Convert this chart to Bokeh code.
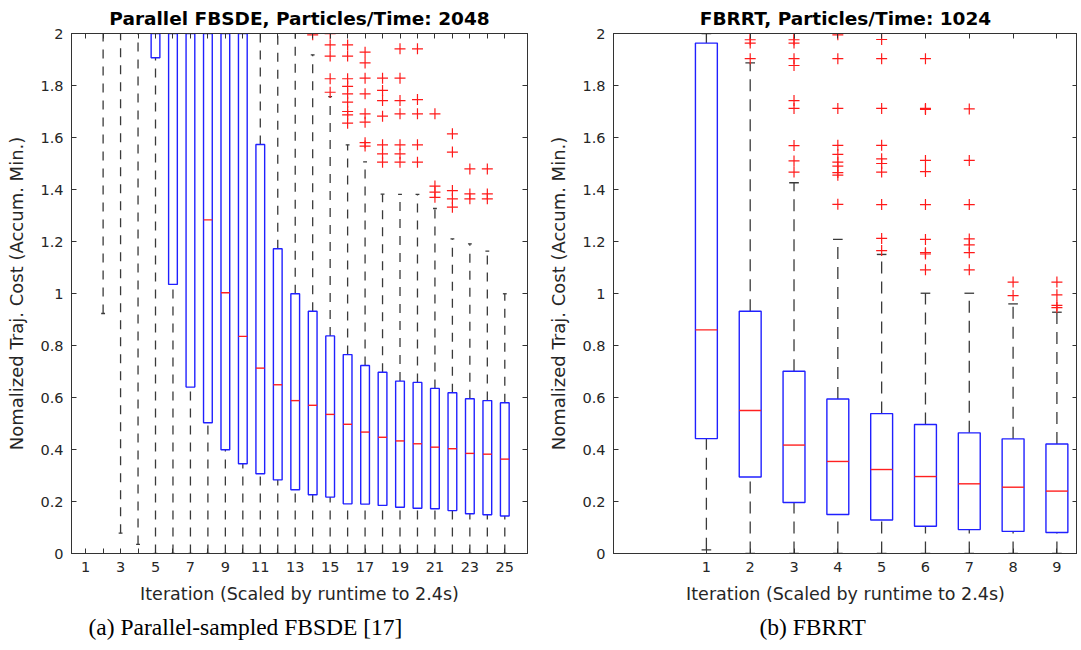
import numpy as np
from bokeh.plotting import figure
from bokeh.layouts import row
from bokeh.models import FixedTicker, LinearAxis, Title, Range1d, ColumnDataSource
from bokeh.embed import file_html
from bokeh.resources import INLINE

nan = float("nan")

# ---------------- data: (a) Parallel-sampled FBSDE ----------------
iters_a = list(range(1, 26))
# nan = not visible; values above 2 lie outside the visible axis (estimated)
lw_a = [nan, 0.923, 0.078, 0.035, 0, 0, 0, 0, 0, 0, 0, 0, 0, 0, 0, 0, 0, 0, 0, 0, 0, 0, 0, 0, 0]
q1_a = [nan, 2.3, 2.2, 2.1, 1.907, 1.035, 0.640, 0.503, 0.399, 0.345, 0.307, 0.283, 0.245,
        0.226, 0.217, 0.191, 0.190, 0.185, 0.178, 0.174, 0.172, 0.165, 0.153, 0.149, 0.144]
med_a = [nan, nan, nan, nan, nan, nan, nan, 1.283, 1.003, 0.835, 0.713, 0.649, 0.588,
         0.570, 0.535, 0.497, 0.467, 0.447, 0.433, 0.422, 0.409, 0.403, 0.385, 0.382, 0.363]
q3_a = [nan, nan, nan, nan, 2.5, 2.4, 2.3, 2.2, 2.1, 2.05, 1.573, 1.172, 0.999,
        0.932, 0.837, 0.765, 0.723, 0.697, 0.663, 0.658, 0.635, 0.618, 0.595, 0.588, 0.580]
uw_a = [nan, nan, nan, nan, nan, nan, nan, nan, nan, nan, 2.2, 2.1, 2.05,
        1.918, 1.757, 1.572, 1.506, 1.382, 1.381, 1.381, 1.327, 1.210, 1.191, 1.163, 0.999]
outliers_a = {
    14: [1.995],
    15: [1.999, 1.956, 1.913, 1.826, 1.774],
    16: [1.956, 1.913, 1.826, 1.797, 1.768, 1.736, 1.700, 1.687, 1.655],
    17: [1.928, 1.887, 1.828, 1.768, 1.691, 1.659, 1.580, 1.567],
    18: [1.828, 1.781, 1.742, 1.682, 1.572, 1.537, 1.505],
    19: [1.941, 1.828, 1.742, 1.691, 1.572, 1.537, 1.505],
    20: [1.941, 1.746, 1.691, 1.572, 1.505],
    21: [1.691, 1.413, 1.390, 1.370],
    22: [1.614, 1.544, 1.396, 1.364, 1.332],
    23: [1.479, 1.383, 1.364],
    24: [1.479, 1.383, 1.364],
}

# ---------------- data: (b) FBRRT ----------------
iters_b = list(range(1, 10))
lw_b = [0.014, 0, 0, 0, 0, 0, 0, 0, 0]
q1_b = [0.442, 0.294, 0.196, 0.150, 0.129, 0.105, 0.092, 0.085, 0.081]
med_b = [0.860, 0.550, 0.417, 0.354, 0.323, 0.296, 0.268, 0.255, 0.240]
q3_b = [1.963, 0.932, 0.701, 0.594, 0.538, 0.496, 0.464, 0.441, 0.421]
uw_b = [2.0, 1.887, 1.426, 1.208, 1.150, 1.001, 1.001, 0.960, 0.928]
outliers_b = {
    2: [2.0, 1.976, 1.963, 1.903],
    3: [2.0, 1.976, 1.963, 1.903, 1.877, 1.742, 1.712, 1.569, 1.510, 1.467],
    4: [1.995, 1.903, 1.712, 1.570, 1.535, 1.505, 1.490, 1.465, 1.455, 1.343],
    5: [1.977, 1.903, 1.712, 1.570, 1.518, 1.500, 1.467, 1.342, 1.212, 1.165],
    6: [1.903, 1.712, 1.708, 1.512, 1.469, 1.342, 1.208, 1.157, 1.152, 1.091],
    7: [1.710, 1.512, 1.342, 1.210, 1.187, 1.157, 1.091],
    8: [1.044, 0.992],
    9: [1.044, 0.995, 0.954, 0.946],
}

y_ticks = [round(0.2 * i, 1) for i in range(11)]
x_label = "Iteration (Scaled by runtime to 2.4s)"
y_label = "Nomalized Traj. Cost (Accum. Min.)"

TXT = "#262626"
FONT = "DejaVu Sans"


def make_panel(title, caption, cap_offset, iters, lw, q1, med, q3, uw, outl,
               x_range, frame_w, mb_left, mb_right, label_every, dash):
    p = figure(frame_width=frame_w, frame_height=520, output_backend="svg",
               toolbar_location=None, x_range=Range1d(*x_range), y_range=Range1d(0, 2),
               min_border_left=mb_left, min_border_right=mb_right,
               min_border_top=33, min_border_bottom=97)
    p.background_fill_color = "white"
    p.border_fill_color = "white"
    p.grid.visible = False
    p.outline_line_color = "#333333"
    p.outline_line_width = 1

    p.title.text = title
    p.title.align = "center"
    p.title.text_font = FONT
    p.title.text_font_size = "18.5px"
    p.title.text_font_style = "bold"
    p.title.text_color = "black"
    p.title.standoff = 10

    ov = {}
    for t in iters:
        ov[t] = str(t) if (t - 1) % label_every == 0 else ""
    xt = FixedTicker(ticks=iters)
    yt = FixedTicker(ticks=y_ticks)
    yov = {0: "0", 1: "1", 2: "2"}

    for ax in (p.xaxis[0], p.yaxis[0]):
        ax.major_tick_in = 5
        ax.major_tick_out = 0
        ax.minor_tick_line_color = None
        ax.axis_line_color = "#333333"
        ax.major_tick_line_color = "#333333"
        ax.major_label_text_font = FONT
        ax.major_label_text_font_size = "14.5px"
        ax.major_label_text_color = TXT
        ax.axis_label_text_font = FONT
        ax.axis_label_text_font_style = "normal"
        ax.axis_label_text_color = TXT
    p.xaxis[0].axis_label_text_font_size = "17.5px"
    p.yaxis[0].axis_label_text_font_size = "18px"
    p.xaxis[0].ticker = xt
    p.xaxis[0].major_label_overrides = ov
    p.xaxis[0].major_label_standoff = 8
    p.xaxis[0].axis_label = x_label
    p.xaxis[0].axis_label_standoff = 9
    p.yaxis[0].ticker = yt
    p.yaxis[0].major_label_overrides = yov
    p.yaxis[0].major_label_standoff = 8
    p.yaxis[0].axis_label = y_label
    p.yaxis[0].axis_label_standoff = 10

    # tick marks only (no labels) on the top and right sides of the box
    top = LinearAxis(ticker=xt, major_label_text_font_size="0px", major_label_text_color=None,
                     major_label_standoff=0,
                     major_tick_in=5, major_tick_out=0, minor_tick_line_color=None,
                     axis_line_color="#333333", major_tick_line_color="#333333")
    right = LinearAxis(ticker=yt, major_label_text_font_size="0px", major_label_text_color=None,
                       major_label_standoff=0,
                       major_tick_in=5, major_tick_out=0, minor_tick_line_color=None,
                       axis_line_color="#333333", major_tick_line_color="#333333")
    p.add_layout(top, "above")
    p.add_layout(right, "right")

    x = np.array(iters, dtype=float)
    hw = 0.25
    cw = 0.11
    src = ColumnDataSource(dict(
        x=x, lw=lw, q1=q1, med=med, q3=q3, uw=uw,
        xl=x - hw, xr=x + hw, cl=x - cw, cr=x + cw))

    # whiskers (dashed)
    p.segment(x0="x", y0="lw", x1="x", y1="q1", source=src, line_color="#3a3a3a",
              line_width=1.3, line_dash=dash)
    p.segment(x0="x", y0="q3", x1="x", y1="uw", source=src, line_color="#3a3a3a",
              line_width=1.3, line_dash=dash)
    # caps
    p.segment(x0="cl", y0="lw", x1="cr", y1="lw", source=src, line_color="#3a3a3a", line_width=1.3)
    p.segment(x0="cl", y0="uw", x1="cr", y1="uw", source=src, line_color="#3a3a3a", line_width=1.3)
    # boxes
    p.vbar(x="x", width=2 * hw, bottom="q1", top="q3", source=src, fill_color=None,
           line_color="#2020ff", line_width=1.4)
    # medians
    p.segment(x0="xl", y0="med", x1="xr", y1="med", source=src, line_color="#ff2020", line_width=1.4)
    # outliers
    ox, oy = [], []
    for k, vals in outl.items():
        for v in vals:
            ox.append(k)
            oy.append(v)
    p.scatter(x=ox, y=oy, marker="cross", size=11, line_color="#ff1a1a", line_width=1.2)

    cap = Title(text=caption, align="left", offset=cap_offset, text_font="Liberation Serif",
                text_font_size="23.5px", text_font_style="normal", text_color="black", standoff=11)
    p.add_layout(cap, "below")
    return p


p1 = make_panel("Parallel FBSDE, Particles/Time: 2048", "(a) Parallel-sampled FBSDE [17]", 17,
                iters_a, lw_a, q1_a, med_a, q3_a, uw_a, outliers_a,
                (0.19, 26.3), 456, 71, 18, 2, "9 8")
p2 = make_panel("FBRRT, Particles/Time: 1024", "(b) FBRRT", 146,
                iters_b, lw_b, q1_b, med_b, q3_b, uw_b, outliers_b,
                (-1.12, 9.47), 464, 68, 0, 1, "12 8")

layout = row(p1, p2)
open("out.html", "w").write(file_html(layout, INLINE))
